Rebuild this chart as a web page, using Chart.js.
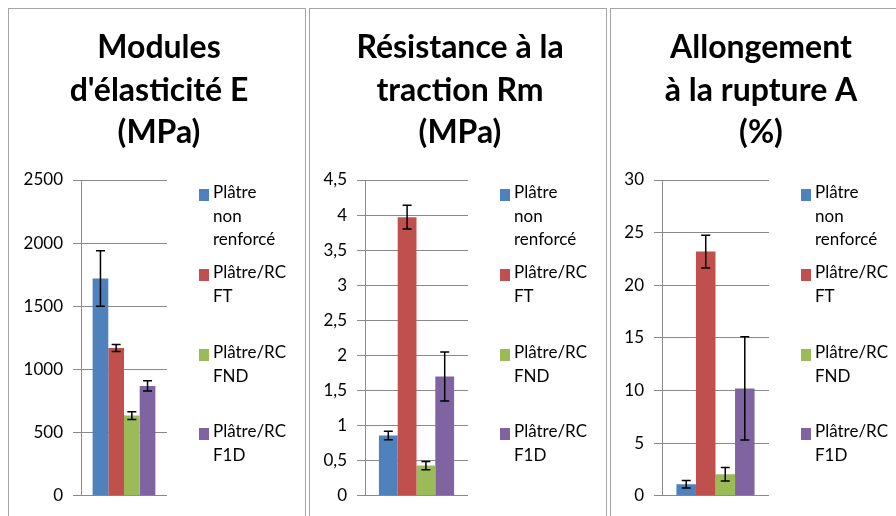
<!DOCTYPE html>
<html>
<head>
<meta charset="utf-8">
<script src="https://cdn.jsdelivr.net/npm/chart.js@4"></script>
<style>
  body { margin: 0; background: #fff; width: 896px; height: 516px; overflow: hidden; position: relative; }
  .panel { position: absolute; top: 8px; width: 296px; height: 520px; border: 1px solid #a6a6a6; background: #fff; }
  .panel canvas { position: absolute; left: 0; top: 0; }
</style>
</head>
<body>
<div class="panel" style="left:8px"><canvas id="c1" width="296" height="507"></canvas></div>
<div class="panel" style="left:309px"><canvas id="c2" width="296" height="507"></canvas></div>
<div class="panel" style="left:610px"><canvas id="c3" width="296" height="507"></canvas></div>
<script>
// series (same four materials in every panel)
const seriesNames = ['Plâtre non renforcé', 'Plâtre/RC FT', 'Plâtre/RC FND', 'Plâtre/RC F1D'];
const legendLines = [['Plâtre', 'non', 'renforcé'], ['Plâtre/RC', 'FT'], ['Plâtre/RC', 'FND'], ['Plâtre/RC', 'F1D']];
const colors = ['#4F81BD', '#C0504D', '#9BBB59', '#8064A2'];

// Modules d'élasticité E (MPa)
const moduleE = [1720, 1170, 635, 870];
const moduleEErr = [220, 27, 30, 40];
// Résistance à la traction Rm (MPa)
const tractionRm = [0.86, 3.97, 0.43, 1.70];
const tractionRmErr = [0.06, 0.17, 0.06, 0.35];
// Allongement à la rupture A (%)
const allongA = [1.1, 23.2, 2.05, 10.2];
const allongAErr = [0.35, 1.55, 0.65, 4.9];

const titles = [
  ['Modules', "d'élasticité E", '(MPa)'],
  ['Résistance à la', 'traction Rm', '(MPa)'],
  ['Allongement', 'à la rupture A', '(%)']
];
const yMax = [2500, 4.5, 30];
const yStep = [500, 0.5, 5];

const FONT = 'Lato, "Open Sans", sans-serif';

// error bars, drawn on top of each bar
const errorBars = {
  id: 'errorBars',
  afterDatasetsDraw(chart, args, opts) {
    const ctx = chart.ctx;
    const y = chart.scales.y;
    ctx.save();
    ctx.strokeStyle = '#000';
    ctx.lineWidth = 1.5;
    chart.data.datasets.forEach((ds, i) => {
      const bar = chart.getDatasetMeta(i).data[0];
      const v = ds.data[0], e = opts.errors[i];
      const top = y.getPixelForValue(v + e), bot = y.getPixelForValue(v - e);
      ctx.beginPath();
      ctx.moveTo(bar.x, top); ctx.lineTo(bar.x, bot);
      ctx.moveTo(bar.x - 4.5, top); ctx.lineTo(bar.x + 4.5, top);
      ctx.moveTo(bar.x - 4.5, bot); ctx.lineTo(bar.x + 4.5, bot);
      ctx.stroke();
    });
    ctx.restore();
  }
};

// title and multi-line legend
const panelText = {
  id: 'panelText',
  afterDraw(chart, args, opts) {
    const ctx = chart.ctx;
    const area = chart.chartArea;
    ctx.save();
    ctx.fillStyle = '#000';
    ctx.textAlign = 'center';
    ctx.textBaseline = 'middle';
    ctx.font = 'bold 32px ' + FONT;
    opts.title.forEach((t, k) => ctx.fillText(t, chart.width / 2 + 2, 39 + k * 42.5));

    ctx.font = '17px ' + FONT;
    ctx.textAlign = 'left';
    const itemOffsets = [13, 93, 173, 252];
    legendLines.forEach((lines, i) => {
      const y0 = area.top + itemOffsets[i];
      const x0 = area.right + 32;
      ctx.fillStyle = colors[i];
      ctx.fillRect(x0, y0 - 4, 10, 12);
      ctx.fillStyle = '#000';
      lines.forEach((l, k) => ctx.fillText(l, x0 + 14, y0 + k * 23.5));
    });
    ctx.restore();
  }
};

function makeChart(id, idx, values, errs, axisWidth) {
  return new Chart(document.getElementById(id), {
    type: 'bar',
    data: {
      labels: [''],
      datasets: seriesNames.map((name, i) => ({
        label: name,
        data: [values[i]],
        backgroundColor: colors[i],
        borderWidth: 0
      }))
    },
    options: {
      responsive: false,
      animation: false,
      layout: { padding: { left: 0, top: 171, right: 296 - 158, bottom: 20 } },
      datasets: { bar: { categoryPercentage: 0.73, barPercentage: 1.0 } },
      plugins: {
        legend: { display: false },
        tooltip: { enabled: false },
        errorBars: { errors: errs },
        panelText: { title: titles[idx] }
      },
      scales: {
        x: { display: false },
        y: {
          min: 0,
          max: yMax[idx],
          ticks: {
            stepSize: yStep[idx],
            padding: 10,
            color: '#000',
            font: { family: FONT, size: 17 },
            callback: v => String(v).replace('.', ',')
          },
          grid: { color: '#8a8a8a', tickLength: 8, lineWidth: 1 },
          border: { color: '#8a8a8a', width: 1 },
          afterFit: s => { s.width = axisWidth; }
        }
      }
    },
    plugins: [errorBars, panelText]
  });
}

makeChart('c1', 0, moduleE, moduleEErr, 72);
makeChart('c2', 1, tractionRm, tractionRmErr, 55);
makeChart('c3', 2, allongA, allongAErr, 51);
</script>
</body>
</html>
